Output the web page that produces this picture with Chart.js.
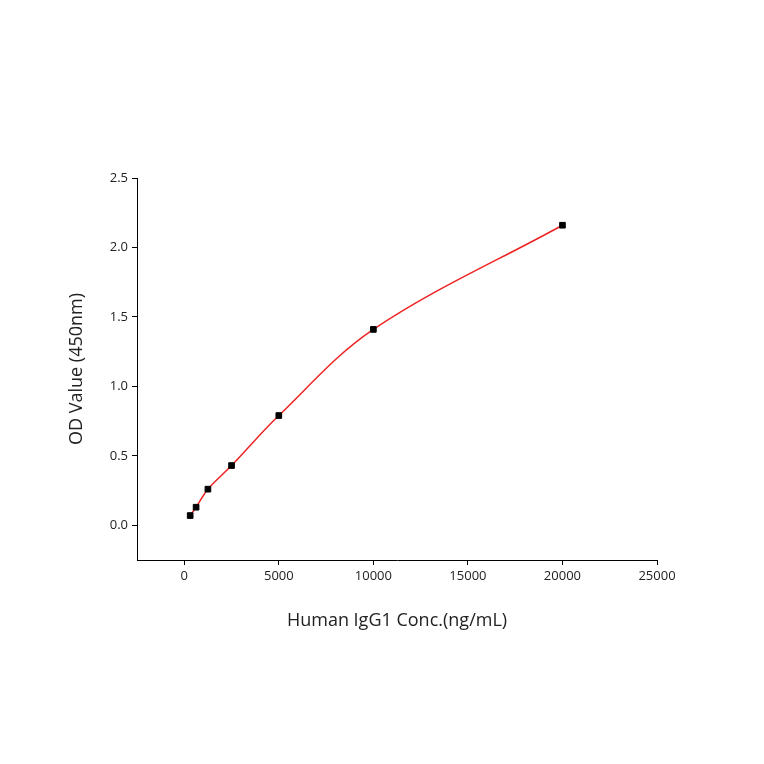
<!DOCTYPE html>
<html>
<head>
<meta charset="utf-8">
<script src="https://cdn.jsdelivr.net/npm/chart.js@4"></script>
<style>
  body { margin: 0; background: #fff; }
  #wrap { width: 764px; height: 764px; }
</style>
</head>
<body>
<div id="wrap"><canvas id="curveChart"></canvas></div>
<script>
// standard curve readings
const concentrations = [312.5, 625, 1250, 2500, 5000, 10000, 20000];
const odValues = [0.07, 0.13, 0.26, 0.43, 0.79, 1.41, 2.16];
const xTicks = [0, 5000, 10000, 15000, 20000, 25000];
const yTicks = [0, 0.5, 1.0, 1.5, 2.0, 2.5];

const points = concentrations.map((c, i) => ({ x: c, y: odValues[i] }));

Chart.defaults.font.family = "'Open Sans', 'Noto Sans', sans-serif";
Chart.defaults.color = "#222";

new Chart(document.getElementById("curveChart"), {
    type: 'scatter',
    data: {
        datasets: [{
            label: 'Fit',
            data: points,
            showLine: true,
            borderColor: '#ee2222',
            borderWidth: 1.5,
            tension: 0.35,
            pointRadius: 0,
            order: 2
        }, {
            label: 'OD',
            data: points,
            backgroundColor: '#000',
            borderColor: '#000',
            pointStyle: 'rect',
            pointRadius: 4,
            order: 1
        }]
    },
    options: {
        responsive: true,
        maintainAspectRatio: false,
        animation: false,
        layout: { padding: { top: 178, right: 107, bottom: 132, left: 66 } },
        plugins: { legend: { display: false }, tooltip: { enabled: false } },
        scales: {
            x: {
                type: 'linear',
                min: -2500,
                max: 25000,
                afterBuildTicks: (s) => { s.ticks = xTicks.map(v => ({ value: v })); },
                afterFit: (s) => { s.height = 72; },
                grid: { drawOnChartArea: false, tickLength: 5, color: '#000' },
                border: { color: '#000', width: 1 },
                ticks: { font: { size: 13 }, padding: 3, callback: (v) => String(v) },
                title: { display: true, text: 'Human IgG1 Conc.(ng/mL)', font: { size: 18 }, padding: 0 }
            },
            y: {
                min: -0.25,
                max: 2.5,
                afterBuildTicks: (s) => { s.ticks = yTicks.map(v => ({ value: v })); },
                afterFit: (s) => { s.width = 71; },
                grid: { drawOnChartArea: false, tickLength: 5, color: '#000' },
                border: { color: '#000', width: 1 },
                ticks: { font: { size: 13 }, padding: 4, callback: (v) => Number(v).toFixed(1) },
                title: { display: true, text: 'OD Value (450nm)', font: { size: 18 }, padding: 0 }
            }
        }
    }
});
</script>
</body>
</html>
